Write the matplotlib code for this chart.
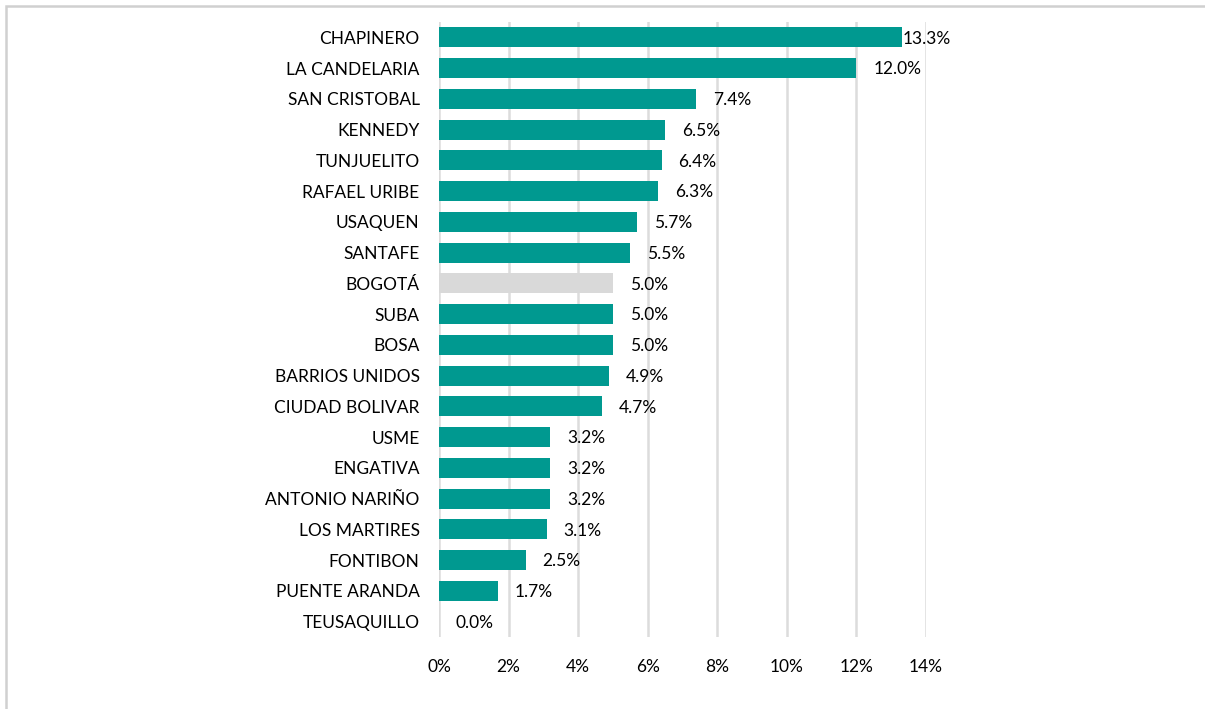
import matplotlib.pyplot as plt
from matplotlib.patches import Rectangle
from matplotlib.ticker import FuncFormatter

localidades = ['CHAPINERO', 'LA CANDELARIA', 'SAN CRISTOBAL', 'KENNEDY', 'TUNJUELITO',
               'RAFAEL URIBE', 'USAQUEN', 'SANTAFE', 'BOGOTÁ', 'SUBA', 'BOSA',
               'BARRIOS UNIDOS', 'CIUDAD BOLIVAR', 'USME', 'ENGATIVA', 'ANTONIO NARIÑO',
               'LOS MARTIRES', 'FONTIBON', 'PUENTE ARANDA', 'TEUSAQUILLO']
valores = [13.3, 12.0, 7.4, 6.5, 6.4, 6.3, 5.7, 5.5, 5.0, 5.0, 5.0,
           4.9, 4.7, 3.2, 3.2, 3.2, 3.1, 2.5, 1.7, 0.0]
xticks = [0, 2, 4, 6, 8, 10, 12, 14]

plt.rcParams['font.family'] = ['Lato', 'DejaVu Sans']

fig = plt.figure(figsize=(12.05, 7.09), dpi=100)
ax = fig.add_axes([0.3643, 0.1016, 0.4042, 0.8674])

colores = ['#D9D9D9' if n == 'BOGOTÁ' else '#009990' for n in localidades]
pos = list(range(len(localidades)))
ax.barh(pos, valores, height=0.65, color=colores, zorder=3)
ax.set_yticks(pos)
ax.set_yticklabels(localidades, fontsize=12.5)
ax.set_ylim(len(localidades) - 0.5, -0.5)
ax.set_xlim(0, 14)
ax.set_xticks(xticks)
ax.xaxis.set_major_formatter(FuncFormatter(lambda v, p: '%d%%' % v))
ax.tick_params(axis='x', labelsize=12.5, length=0, pad=16)
ax.tick_params(axis='y', length=0, pad=14)
ax.grid(axis='x', color='#DCDCDC', linewidth=1.8, zorder=0)
for s in ax.spines.values():
    s.set_visible(False)

for i, v in enumerate(valores):
    off = 1 if v > 13 else 12  # excel pushes the largest label in
    ax.annotate('%.1f%%' % v, (v, i), xytext=(off, -1), textcoords='offset points',
                va='center', ha='left', fontsize=12.5, zorder=4)

# chart border (only top/left edge visible in the original crop)
fig.patches.append(Rectangle((0.005, -0.1), 1.2, 1.0915, transform=fig.transFigure,
                             fill=False, edgecolor='#D0D0D0', linewidth=1.8))

fig.savefig('out.png', dpi=100)
